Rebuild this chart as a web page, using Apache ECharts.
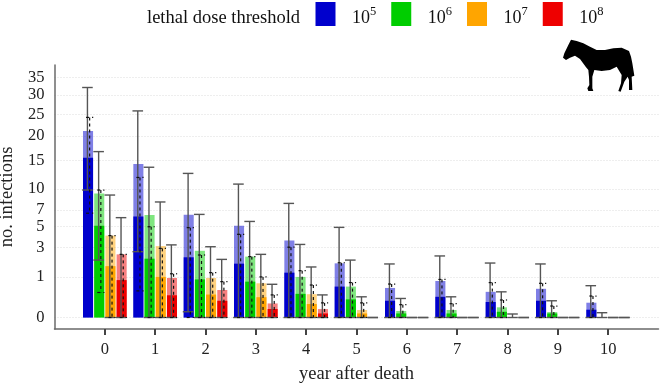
<!DOCTYPE html>
<html>
<head>
<meta charset="utf-8">
<style>html,body{margin:0;padding:0;background:#fff}#c{width:660px;height:384px}</style>
<script src="https://cdn.jsdelivr.net/npm/echarts@6/dist/echarts.min.js"></script>
</head>
<body>
<div id="c"></div>
<script>
const years = [0,1,2,3,4,5,6,7,8,9,10];
const yTicks = [0,1,3,5,7,10,15,20,25,30,35];
const thresholds = ['10^5','10^6','10^7','10^8'];
const colors = ['#0000CD','#00CD00','#FFA500','#EE0000'];

// each threshold: darker bar, paler bar, solid whisker high/low, dashed whisker high/low
const darkE5  = [15.5,6.2,2.2,1.76,1.22,0.58,0.17,0.26,0.146,0.17,0.037];
const paleE5  = [21.1,14.3,6.4,5.1,3.6,1.78,0.53,0.81,0.40,0.50,0.133];
const solidHiE5 = [32.1,25.9,12.6,10.8,7.9,4.93,1.74,2.3,1.8,1.74,0.615];
const solidLoE5 = [9.86,2.63,0.02,0,0,0,0,0,0,0,0];
const dashHiE5  = [24.3,11.9,4.9,4.2,3.0,1.82,0.68,0.88,0.74,0.71,0.28];
const dashLoE5  = [6.6,0.43,0,0,0,0,0,0,0,0,0];

const darkE6  = [5.1,2.1,0.88,0.78,0.34,0.2,0.01,0.01,0.02,0.01,0];
const paleE6  = [9.35,6.37,2.7,2.25,1.0,0.58,0.026,0.034,0.063,0.018,0];
const solidHiE6 = [16.7,13.7,6.45,5.6,3.24,2.0,0.22,0.26,0.4,0.17,0.014];
const solidLoE6 = [2.0,0,0,0,0,0,0,0,0,0,0];
const dashHiE6  = [9.86,5.0,2.37,2.25,1.33,0.74,0.1,0.116,0.186,0.08,0];
const dashLoE6  = [0.38,0,0,0,0,0,0,0,0,0,0];

const darkE7  = [1.6,1.0,0.32,0.25,0.11,0.01,0,0,0,0,0];
const paleE7  = [4.07,3.1,0.95,0.71,0.33,0.034,0,0,0,0,0];
const solidHiE7 = [9.1,8.1,3.04,2.42,1.55,0.26,0,0,0.0075,0,0];
const solidLoE7 = [0,0,0,0,0,0,0,0,0,0,0];
const dashHiE7  = [4.07,2.9,1.22,1.0,0.64,0.13,0,0,0,0,0];
const dashLoE7  = [0,0,0,0,0,0,0,0,0,0,0];

const darkE8  = [0.85,0.3,0.17,0.044,0.01,0,0,0,0,0,0];
const paleE8  = [2.42,0.95,0.46,0.12,0.043,0,0,0,0,0,0];
const solidHiE8 = [6.05,3.2,2.05,0.67,0.31,0,0,0,0,0,0];
const solidLoE8 = [0,0,0,0,0,0,0,0,0,0,0];
const dashHiE8  = [2.42,1.16,0.78,0.31,0.13,0,0,0,0,0,0];
const dashLoE8  = [0,0,0,0,0,0,0,0,0,0,0];

const table = [
  [darkE5,paleE5,solidHiE5,solidLoE5,dashHiE5,dashLoE5],
  [darkE6,paleE6,solidHiE6,solidLoE6,dashHiE6,dashLoE6],
  [darkE7,paleE7,solidHiE7,solidLoE7,dashHiE7,dashLoE7],
  [darkE8,paleE8,solidHiE8,solidLoE8,dashHiE8,dashLoE8]
];

// the value axis is square-root scaled
const toAxis = v => Math.sqrt(v);
const fromAxis = s => Math.round(s * s);

function makeRender(k) {
  return function (params, api) {
    const yr = api.value(0);
    const unit = api.size([1, 0])[0];
    const cx = api.coord([yr, 0])[0] + (k - 1.5) * unit * 0.2225;
    const w = unit * 0.2;
    const y = i => api.coord([yr, api.value(i)])[1];
    const y0 = api.coord([yr, 0])[1];
    const kids = [];
    const rect = (top, opacity) => kids.push({
      type: 'rect',
      shape: { x: cx - w / 2, y: top, width: w, height: y0 - top },
      style: { fill: colors[k], opacity: opacity }
    });
    if (api.value(2) > 0) rect(y(2), 0.5);
    if (api.value(1) > 0) rect(y(1), 1);
    const line = (x1, y1, x2, y2, st) => kids.push({
      type: 'line', shape: { x1, y1, x2, y2 }, style: st, z2: 5
    });
    const solid = { stroke: '#555', lineWidth: 1.4 };
    const dash = { stroke: '#111', lineWidth: 1.2, lineDash: [3, 3] };
    const sx = cx - 0.6, dx = cx + 1.6;
    line(sx, y(3), sx, y(4), solid);
    line(sx - 5.3, y(3), sx + 5.3, y(3), solid);
    line(sx - 5.3, y(4), sx + 5.3, y(4), solid);
    if (api.value(5) > 0) {
      line(dx, y(5), dx, y(6), dash);
      line(dx - 3.6, y(5), dx + 3.6, y(5), dash);
      line(dx - 3.6, y(6), dx + 3.6, y(6), dash);
    }
    return { type: 'group', children: kids };
  };
}

const series = thresholds.map((name, k) => ({
  name: name,
  type: 'custom',
  coordinateSystem: 'cartesian2d',
  renderItem: makeRender(k),
  itemStyle: { color: colors[k] },
  encode: { x: 0, y: [1, 2, 3, 4, 5, 6] },
  clip: false,
  data: years.map((yr, i) => [yr].concat(table[k].map(a => toAxis(a[i]))))
}));

const zebra = [[48,14],[40,30],[28,55],[24,68],[33,75],[45,68],[60,62],[75,72],[92,95],[100,105],[102,125],[103,150],[97,160],[100,168],[115,168],[112,160],[112,125],[118,105],[140,108],[165,105],[185,95],[200,120],[198,145],[190,168],[197,170],[208,140],[218,125],[222,135],[222,165],[232,165],[230,125],[238,122],[232,85],[228,65],[222,48],[200,38],[175,40],[150,45],[125,45],[105,35],[85,25],[65,18]];

const serif = '"Liberation Serif","Times New Roman",serif';
const chart = echarts.init(document.getElementById('c'), null, { renderer: 'canvas' });
chart.setOption({
  animation: false,
  backgroundColor: '#fff',
  textStyle: { fontFamily: serif },
  grid: { left: 54.5, top: 65, width: 604, height: 264, containLabel: false, outerBoundsMode: 'none' },
  legend: {
    left: 315.5, top: 2, padding: 0, itemWidth: 20, itemHeight: 24, itemGap: 15,
    icon: 'rect',
    data: thresholds,
    selectedMode: false,
    formatter: n => '{a|10}{b|' + n.split('^')[1] + '}',
    textStyle: {
      fontFamily: serif,
      rich: {
        a: { fontFamily: serif, fontSize: 18, color: '#111', padding: [8, 0, 0, 11.5] },
        b: { fontFamily: serif, fontSize: 12.5, color: '#111', padding: [0, 0, 4, 0] }
      }
    }
  },
  xAxis: {
    type: 'value', min: -1, max: 11,
    name: 'year after death', nameLocation: 'middle', nameGap: 36,
    nameTextStyle: { fontFamily: serif, fontSize: 18.5, color: '#222' },
    axisLine: { show: true, onZero: false, lineStyle: { color: '#6a6a6a', width: 1.5 } },
    axisTick: { show: true, customValues: years, length: 6, lineStyle: { color: '#444', width: 2 } },
    axisLabel: { customValues: years, margin: 12, fontFamily: serif, fontSize: 16.5, color: '#222' },
    splitLine: { show: false }
  },
  yAxis: {
    type: 'value', min: -0.283, max: 6.22,
    name: 'no. infections', nameLocation: 'middle', nameGap: 31, nameRotate: 90,
    nameTextStyle: { fontFamily: serif, fontSize: 18.5, color: '#222' },
    axisLine: { show: true, onZero: false, lineStyle: { color: '#6a6a6a', width: 1.5 } },
    axisTick: { show: false, customValues: yTicks.map(toAxis) },
    axisLabel: {
      customValues: yTicks.map(toAxis), margin: 10,
      fontFamily: serif, fontSize: 16.5, color: '#222',
      formatter: v => String(fromAxis(v))
    },
    splitLine: { show: true, lineStyle: { color: '#dcdcdc', width: 1, type: [1, 2] } }
  },
  series: series,
  graphic: [
    { type: 'text', left: 147, top: 9, z: 20,
      style: { text: 'lethal dose threshold', fontFamily: serif, fontSize: 18.5, fill: '#111' } },
    { type: 'rect', z: 20, shape: { x: 531, y: 66, width: 129, height: 20 }, style: { fill: '#fff' } },
    { type: 'polygon', z: 21, x: 555, y: 35, scaleX: 1 / 3, scaleY: 1 / 3,
      shape: { points: zebra }, style: { fill: '#000' } }
  ]
});
</script>
</body>
</html>
